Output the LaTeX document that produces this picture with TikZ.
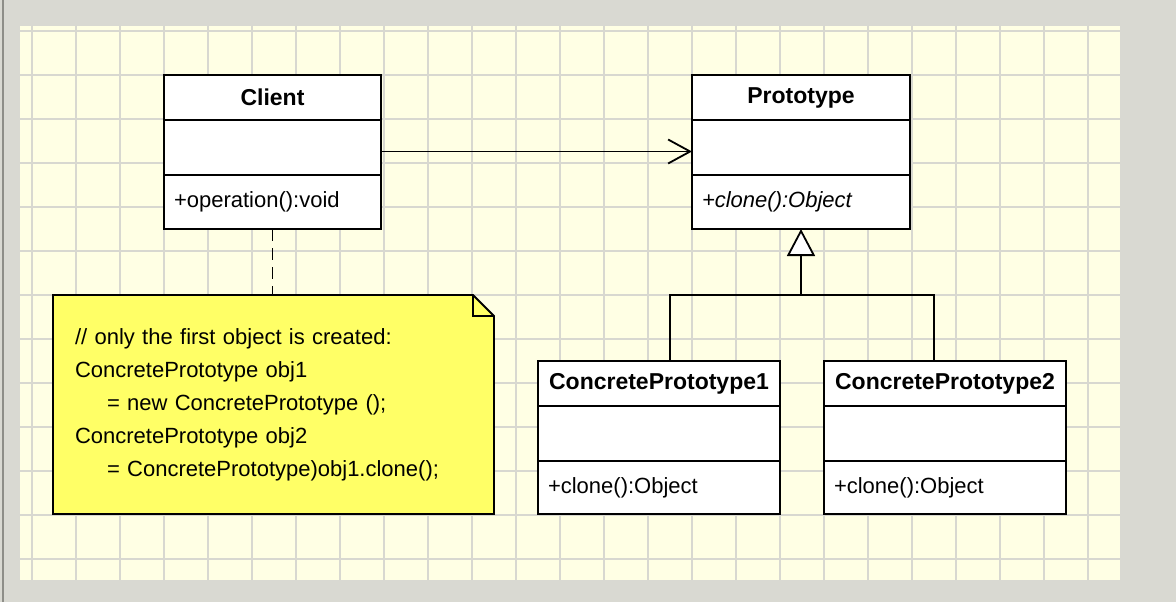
\documentclass[tikz,border=0pt]{standalone}
\usepackage{fontspec}
\setmainfont{Liberation Sans}
\usetikzlibrary{positioning, arrows.meta}
\definecolor{bggray}{HTML}{D9D9D2}
\definecolor{edgegray}{HTML}{8E8E88}
\definecolor{paper}{HTML}{FFFFE4}
\definecolor{gridgray}{HTML}{D8D8D0}
\definecolor{noteyellow}{HTML}{FFFF66}

\begin{document}
\begin{tikzpicture}[x=1pt, y=-1pt, line width=1.8pt,
    gridline/.style={gridgray, line width=2pt},
    classhead/.style={draw, fill=white, outer sep=0pt, minimum height=45pt,
        font=\fontsize{23}{27}\selectfont\bfseries},
    classpart/.style={draw, fill=white, outer sep=0pt, inner xsep=10pt, align=left,
        font=\fontsize{22}{26}\selectfont}]
    \useasboundingbox (0,0) rectangle (1176,602);
    \fill[bggray] (0,0) rectangle (1176,602);
    \draw[edgegray, line width=1.5pt] (3,0)--(3,602);
    \fill[paper] (20,26) rectangle (1120,580);
    \foreach \gx in {32,76,...,1088}
    {
        \draw[gridline] (\gx,26)--(\gx,580);
    }
    \foreach \gy in {31,75,...,559}
    {
        \draw[gridline] (20,\gy)--(1120,\gy);
    }

    % classes
    \node[classhead, minimum width=217pt] (client) at (272.5,97.5) {Client};
    \node[classpart, text width=197pt, minimum height=55pt, below=0pt of client] (clientattr) {};
    \node[classpart, text width=197pt, minimum height=54pt, below=0pt of clientattr] (clientop) {+operation():void};

    \node[classhead, minimum width=218pt] (proto) at (801,97.5) {Prototype};
    \node[classpart, text width=198pt, minimum height=55pt, below=0pt of proto] (protoattr) {};
    \node[classpart, text width=198pt, minimum height=54pt, below=0pt of protoattr] (protoop) {\itshape +clone():Object};

    \foreach \n/\cx in {1/659,2/945}
    {
        \node[classhead, minimum width=242pt] (cp\n) at (\cx,383.5) {ConcretePrototype\n};
        \node[classpart, text width=222pt, minimum height=55pt, below=0pt of cp\n] (cp\n attr) {};
        \node[classpart, text width=222pt, minimum height=53pt, below=0pt of cp\n attr] (cp\n op) {+clone():Object};
    }

    % note
    \filldraw[fill=noteyellow] (53,295)--(473,295)--(494,316)--(494,514)--(53,514)--cycle;
    \draw (473,295) |- (494,316);
    \node[minimum width=441pt, minimum height=219pt, text width=397pt, inner xsep=22pt, outer sep=0pt,
        align=left, font=\fontsize{22}{33}\selectfont] (note) at (273.5,404.5)
        {// only the first object is created:\\
         ConcretePrototype obj1\\
         \hspace*{32pt}= new ConcretePrototype ();\\
         ConcretePrototype obj2\\
         \hspace*{32pt}= ConcretePrototype)obj1.clone();};

    % connectors
    \draw[-{Straight Barb[length=22pt,width=24pt]}] ([yshift=-4pt]clientattr.east)--([yshift=-4pt]clientattr.east -| protoattr.west);
    \draw[dash pattern=on 12pt off 7pt] (clientop.south)--(clientop.south |- note.north);
    \coordinate (split) at (801,295);
    \draw[-{Triangle[length=27pt,width=28pt,fill=white]}] (split)--(protoop.south);
    \draw ([xshift=11pt]cp1.north) |- (split) -| ([xshift=-11pt]cp2.north);
\end{tikzpicture}
\end{document}
